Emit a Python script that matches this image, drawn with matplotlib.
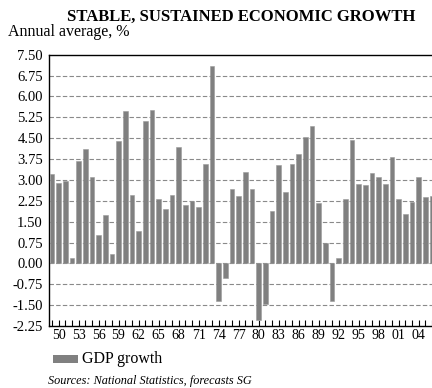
import matplotlib
matplotlib.use("Agg")
import matplotlib.pyplot as plt
import matplotlib.patches as mpatches
import numpy as np

# annual GDP growth, %
years = list(range(1949, 2007))
gdp_growth = [
    3.23, 2.90, 2.97, 0.18, 3.69, 4.10, 3.10, 1.02, 1.74, 0.34,
    4.41, 5.46, 2.44, 1.16, 5.10, 5.51, 2.30, 1.94, 2.44, 4.19,
    2.10, 2.24, 2.02, 3.58, 7.10, -1.34, -0.54, 2.67, 2.43, 3.27,
    2.69, -2.04, -1.45, 1.90, 3.53, 2.56, 3.56, 3.94, 4.54, 4.95,
    2.16, 0.75, -1.34, 0.19, 2.31, 4.42, 2.85, 2.80, 3.25, 3.09,
    2.85, 3.84, 2.30, 1.76, 2.22, 3.11, 2.38, 2.42,
]
y_ticks = [-2.25, -1.50, -0.75, 0.00, 0.75, 1.50, 2.25, 3.00, 3.75,
           4.50, 5.25, 6.00, 6.75, 7.50]
label_years = list(range(1950, 2007, 3))

plt.rcParams['font.family'] = ['Liberation Serif', 'DejaVu Serif']

W, H = 432, 388
fig = plt.figure(figsize=(W / 100, H / 100), dpi=100)
ax = fig.add_axes([48.5 / W, 1 - 326 / H, (436 - 48.5) / W, (326 - 54.7) / H])

bar_color = '#808080'
ax.bar(years, gdp_growth, width=0.7, color=bar_color, edgecolor='#9a9a9a',
       linewidth=0.4, zorder=3)

ax.set_xlim(1948.5, 2006.6)
ax.set_ylim(-2.25, 7.50)

# dashed horizontal grid, no line on the top border
for v in y_ticks[1:-1]:
    ax.axhline(v, color='#8a8a8a', lw=0.8, ls=(0, (4, 2)), zorder=1)

ax.set_yticks(y_ticks)
ax.set_yticklabels(['%.2f' % v for v in y_ticks])
ax.tick_params(axis='y', length=0, pad=4, labelsize=10.5)

ax.set_xticks(years, minor=True)
ax.set_xticks(label_years)
ax.set_xticklabels(['%02d' % (y % 100) for y in label_years])
ax.tick_params(axis='x', which='both', direction='in', length=4.5, width=0.8,
               labelsize=10, pad=2)

for side in ['left', 'top', 'bottom', 'right']:
    ax.spines[side].set_linewidth(1.0)
    ax.spines[side].set_color('black')

fig.text(241 / W, 1 - 16.5 / H, 'STABLE, SUSTAINED ECONOMIC GROWTH',
         ha='center', va='center', fontsize=12, fontweight='bold')
fig.text(7.5 / W, 1 - 32 / H, 'Annual average, %', ha='left', va='center',
         fontsize=11.5)

# legend swatch and label
fig.patches.append(mpatches.Rectangle((53 / W, 1 - 363 / H), 25 / W, 8 / H,
                                      transform=fig.transFigure, facecolor=bar_color,
                                      edgecolor='none'))
fig.text(82 / W, 1 - 359 / H, 'GDP growth', ha='left', va='center', fontsize=11.5)

fig.text(48 / W, 1 - 381 / H, 'Sources: National Statistics, forecasts SG',
         ha='left', va='center', fontsize=8.8, style='italic')

fig.savefig('out.png', dpi=100)
